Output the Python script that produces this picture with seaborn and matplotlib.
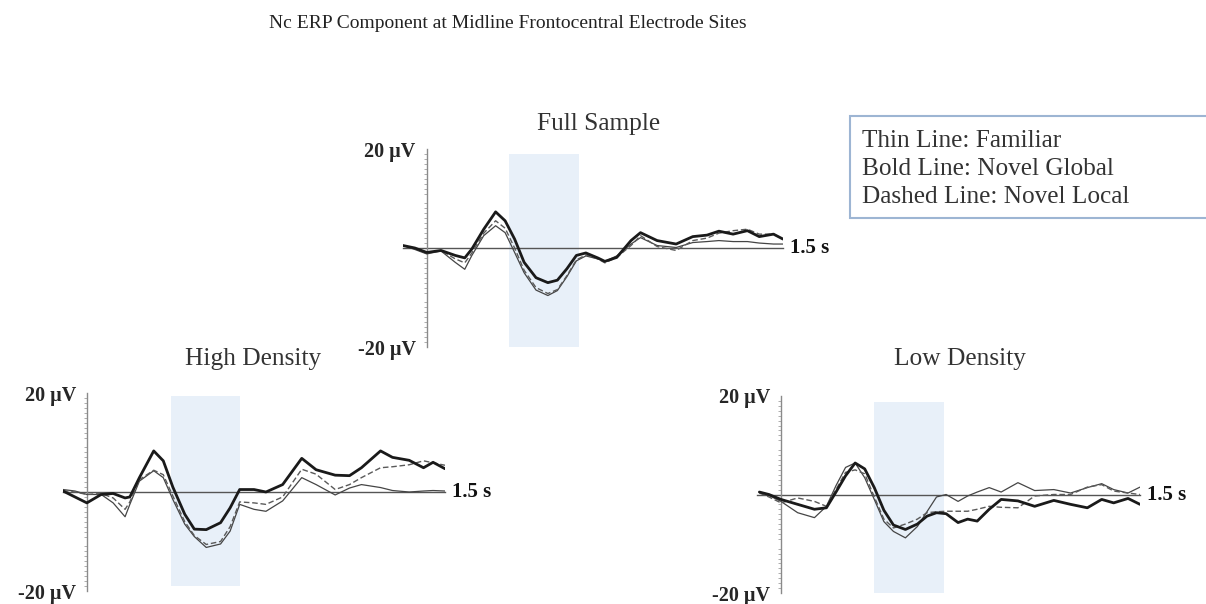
import numpy as np
import pandas as pd
import matplotlib
matplotlib.use("Agg")
import matplotlib.pyplot as plt
import seaborn as sns
from matplotlib.ticker import FixedLocator, FixedFormatter, MultipleLocator
from matplotlib.patches import Rectangle

# ---- data (time in s, amplitude in µV) ----
full_t = [-0.10, -0.05, 0.00, 0.06, 0.12, 0.16, 0.19, 0.24, 0.29, 0.33, 0.37, 0.41,
          0.46, 0.51, 0.55, 0.59, 0.63, 0.67, 0.72, 0.75, 0.80, 0.86, 0.90, 0.97,
          1.05, 1.12, 1.18, 1.23, 1.29, 1.35, 1.40, 1.46, 1.50]
full_global = [0.5, 0.0, -0.9, -0.5, -1.5, -2.0, -0.2, 3.8, 7.3, 5.5, 1.8, -2.9,
               -6.0, -7.0, -6.5, -4.2, -1.5, -1.0, -2.0, -2.7, -1.9, 1.5, 3.1, 1.5,
               0.8, 2.3, 2.6, 3.4, 2.8, 3.5, 2.3, 2.8, 1.8]
full_familiar = [0.5, -0.3, -1.2, -0.6, -2.9, -4.3, -1.5, 2.5, 4.5, 3.1, -0.9, -5.0,
                 -8.5, -9.6, -8.6, -5.8, -2.6, -1.6, -2.2, -2.7, -1.6, 0.8, 2.1, 0.5,
                 0.1, 1.1, 1.3, 1.5, 1.3, 1.3, 1.0, 0.8, 0.8]
full_local = [0.5, -0.1, -1.0, -0.5, -2.2, -3.0, -1.0, 3.0, 5.5, 4.0, 0.0, -4.5,
              -8.0, -9.2, -8.4, -5.6, -2.4, -1.4, -2.2, -3.0, -1.9, 0.5, 2.5, 0.3,
              -0.5, 1.5, 2.0, 3.0, 3.5, 3.8, 2.8, 2.8, 1.8]

high_t = [-0.10, -0.05, 0.00, 0.06, 0.11, 0.16, 0.18, 0.22, 0.28, 0.32, 0.36, 0.41,
          0.45, 0.50, 0.56, 0.60, 0.64, 0.70, 0.75, 0.82, 0.90, 0.96, 1.04, 1.10,
          1.15, 1.23, 1.28, 1.35, 1.41, 1.45, 1.50]
high_global = [0.2, -1.0, -2.2, -0.5, -0.3, -1.2, -1.0, 2.9, 8.3, 6.3, 1.0, -4.5,
               -7.5, -7.6, -6.2, -3.2, 0.5, 0.5, 0.0, 1.5, 6.8, 4.5, 3.4, 3.3,
               4.9, 8.3, 7.0, 6.4, 4.9, 6.0, 4.7]
high_familiar = [0.5, 0.2, -0.5, -0.5, -2.2, -5.0, -2.5, 2.2, 4.3, 2.9, -1.5, -6.5,
                 -9.0, -11.2, -10.5, -7.9, -2.5, -3.5, -3.9, -1.8, 2.9, 1.5, -0.6, 0.8,
                 1.5, 0.9, 0.3, 0.0, 0.2, 0.3, 0.2]
high_local = [0.3, 0.0, -0.5, -0.3, -1.2, -3.5, -2.0, 2.5, 4.4, 3.5, -0.8, -6.0,
              -8.8, -10.6, -10.0, -7.0, -2.0, -2.2, -2.5, -1.0, 4.6, 3.6, 0.5, 1.5,
              2.9, 4.9, 5.1, 5.5, 6.3, 5.9, 5.4]

low_t = [-0.09, -0.05, 0.00, 0.07, 0.14, 0.19, 0.23, 0.27, 0.31, 0.35, 0.39, 0.43,
         0.47, 0.52, 0.57, 0.61, 0.65, 0.69, 0.74, 0.78, 0.82, 0.87, 0.92, 0.99,
         1.06, 1.14, 1.21, 1.28, 1.34, 1.39, 1.45, 1.50]
low_global = [0.5, 0.0, -1.0, -2.0, -3.0, -2.7, 0.5, 3.8, 6.4, 5.2, 1.4, -3.2,
              -6.2, -7.1, -6.0, -4.4, -3.7, -3.9, -5.7, -5.0, -5.4, -3.0, -1.0, -1.3,
              -2.4, -1.2, -2.0, -2.7, -1.0, -1.7, -0.8, -2.0]
low_familiar = [0.5, -0.2, -1.4, -3.7, -4.7, -2.4, 1.8, 5.5, 6.4, 3.4, -1.0, -5.5,
                -7.5, -8.8, -6.5, -3.5, -0.5, 0.0, -1.4, -0.3, 0.5, 1.4, 0.5, 2.4,
                0.8, 1.0, 0.3, 1.4, 2.2, 1.0, 0.3, 1.5]
low_local = [0.3, -0.5, -1.7, -0.7, -1.4, -2.4, 1.0, 4.5, 5.0, 4.2, -0.5, -5.0,
             -6.8, -6.0, -5.0, -3.7, -3.5, -3.4, -3.4, -3.4, -3.0, -2.4, -2.6, -2.7,
             -0.3, 0.0, 0.0, 1.5, 2.0, 0.7, 0.3, 0.0]

panel_names = ["Full Sample", "High Density", "Low Density"]
nc_windows = [(0.345, 0.64), (0.354, 0.643), (0.39, 0.68)]
legend_lines = ["Thin Line: Familiar", "Bold Line: Novel Global", "Dashed Line: Novel Local"]

panels = [
    (full_t, full_familiar, full_global, full_local),
    (high_t, high_familiar, high_global, high_local),
    (low_t, low_familiar, low_global, low_local),
]

W, H = 1206, 604
sns.set_style("white")
plt.rcParams["font.family"] = ["Liberation Serif", "DejaVu Serif"]

fig = plt.figure(figsize=(W / 100, H / 100), dpi=100)

def px_axes(x0, x1, ytop, ybot):
    return fig.add_axes([x0 / W, 1 - ybot / H, (x1 - x0) / W, (ybot - ytop) / H])

# pixel boxes: (left=-0.1 s, right=1.5 s, top=20 µV, bottom=-20 µV)
boxes = [(403, 783, 149, 347), (63, 445, 393, 591), (757, 1140, 396, 593)]
shade_tops = [19.0, 19.4, 18.8]
shade_bots = [-20.0, -19.0, -20.0]
titles_xy = [(599, 130), (253, 365), (960, 365)]

for i, (t, fam, glob, loc) in enumerate(panels):
    ax = px_axes(*boxes[i])
    ax.set_xlim(-0.1, 1.5)
    ax.set_ylim(-20, 20)
    ax.set_facecolor("none")

    a, b = nc_windows[i]
    ax.add_patch(Rectangle((a, shade_bots[i]), b - a, shade_tops[i] - shade_bots[i],
                           facecolor="#e8f0f9", edgecolor="none", zorder=0))

    sns.lineplot(x=t, y=fam, ax=ax, color="#454545", linewidth=0.9, zorder=3)
    sns.lineplot(x=t, y=loc, ax=ax, color="#5a5a5a", linewidth=1.0,
                 linestyle=(0, (4, 2)), zorder=3)
    sns.lineplot(x=t, y=glob, ax=ax, color="#1a1a1a", linewidth=2.0, zorder=4)

    # axes drawn through the origin like the ERP software does
    for s in ["top", "right"]:
        ax.spines[s].set_visible(False)
    ax.spines["left"].set_position(("data", 0))
    ax.spines["bottom"].set_position(("data", 0))
    ax.spines["left"].set_color("#8a8a8a")
    ax.spines["left"].set_linewidth(1.0)
    ax.spines["bottom"].set_color("#555555")
    ax.spines["bottom"].set_linewidth(1.0)
    ax.spines["bottom"].set_zorder(2)

    ax.set_xticks([])
    ax.yaxis.set_major_locator(FixedLocator([-20, -10, 10, 20]))
    ax.yaxis.set_major_formatter(FixedFormatter(["-20 µV", "", "", "20 µV"]))
    ax.yaxis.set_minor_locator(MultipleLocator(1))
    ax.tick_params(axis="y", which="major", direction="out", length=6, width=1,
                   color="#8a8a8a", pad=2, labelsize=14.5)
    ax.tick_params(axis="y", which="minor", direction="out", length=2, width=0.6,
                   color="#a0a0a0", left=True)
    for lab in ax.get_yticklabels():
        lab.set_fontweight("bold")
    ax.text(1.53, 0, "1.5 s", fontsize=15, fontweight="bold", va="center", ha="left",
            color="#111111")
    ax.set_xlabel("")
    ax.set_ylabel("")

    tx, ty = titles_xy[i]
    fig.text(tx / W, 1 - ty / H, panel_names[i], ha="center", va="baseline",
             fontsize=18.3, color="#333333")

fig.text(508 / W, 1 - 28 / H, "Nc ERP Component at Midline Frontocentral Electrode Sites",
         ha="center", va="baseline", fontsize=14, color="#222222")

# line-style key box
fig.patches.append(Rectangle((850 / W, 1 - 218 / H), 370 / W, 102 / H,
                             transform=fig.transFigure, facecolor="white",
                             edgecolor="#9db5d3", linewidth=1.5, clip_on=False))
for k, line in enumerate(legend_lines):
    fig.text(862 / W, 1 - (147 + 28 * k) / H, line, ha="left", va="baseline",
             fontsize=18.2, color="#333333")

plt.savefig("out.png", dpi=100)
plt.close()
